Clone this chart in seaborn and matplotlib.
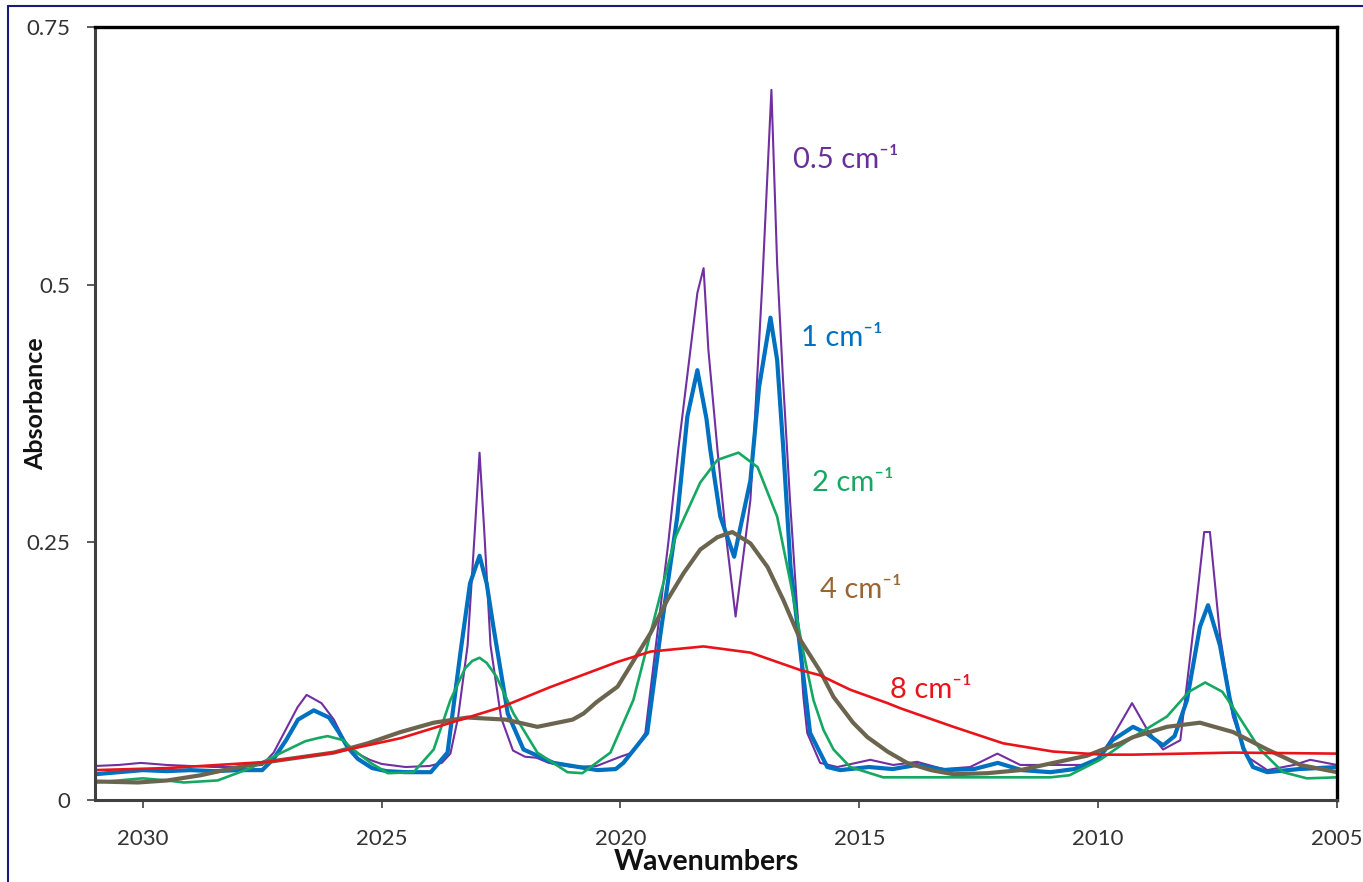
import matplotlib
matplotlib.use("Agg")
import matplotlib.pyplot as plt
from matplotlib.lines import Line2D
import seaborn as sns
import pandas as pd

# ---- data (wavenumber, absorbance) ----
wn_05 = [2031.0, 2030.5, 2030.04, 2029.5, 2029.0, 2028.5, 2028.0, 2027.5, 2027.26, 2027.01,
         2026.76, 2026.57, 2026.26, 2026.0, 2025.75, 2025.5, 2025.25, 2025.0, 2024.5, 2024.0,
         2023.74, 2023.56, 2023.4, 2023.2, 2023.05, 2022.95, 2022.85, 2022.72, 2022.5, 2022.25,
         2022.0, 2021.76, 2021.5, 2021.0, 2020.5, 2020.0, 2019.75, 2019.48, 2019.0, 2018.79,
         2018.39, 2018.26, 2018.16, 2017.97, 2017.8, 2017.59, 2017.28, 2017.22, 2017.03, 2016.84,
         2016.72, 2016.6, 2016.45, 2016.3, 2016.17, 2016.09, 2015.82, 2015.46, 2014.77, 2014.29,
         2013.79, 2013.24, 2012.68, 2012.11, 2011.63, 2010.94, 2010.23, 2009.96, 2009.69, 2009.29,
         2008.97, 2008.64, 2008.28, 2007.97, 2007.78, 2007.66, 2007.45, 2007.18, 2006.88, 2006.46,
         2005.9, 2005.56, 2005.0]
ab_05 = [0.033, 0.034, 0.036, 0.034, 0.033, 0.032, 0.032, 0.034, 0.046, 0.068,
         0.090, 0.102, 0.094, 0.078, 0.055, 0.045, 0.039, 0.035, 0.032, 0.033,
         0.036, 0.045, 0.080, 0.150, 0.260, 0.337, 0.260, 0.150, 0.080, 0.048,
         0.042, 0.041, 0.036, 0.032, 0.033, 0.042, 0.046, 0.065, 0.249, 0.340,
         0.492, 0.516, 0.437, 0.340, 0.260, 0.178, 0.291, 0.340, 0.502, 0.689,
         0.520, 0.410, 0.290, 0.185, 0.100, 0.065, 0.036, 0.032, 0.039, 0.034,
         0.037, 0.030, 0.032, 0.045, 0.034, 0.034, 0.034, 0.042, 0.062, 0.094,
         0.068, 0.049, 0.058, 0.180, 0.260, 0.260, 0.160, 0.081, 0.042, 0.029,
         0.034, 0.039, 0.034]

wn_1 = [2031.0, 2030.5, 2030.0, 2029.5, 2029.0, 2028.5, 2028.0, 2027.5, 2027.26, 2027.0,
        2026.75, 2026.42, 2026.1, 2025.9, 2025.71, 2025.5, 2025.2, 2024.9, 2024.5, 2023.97,
        2023.62, 2023.35, 2023.15, 2022.95, 2022.8, 2022.66, 2022.36, 2022.03, 2021.4, 2020.48,
        2020.1, 2019.94, 2019.44, 2019.16, 2018.81, 2018.6, 2018.39, 2018.2, 2018.12, 2017.91,
        2017.62, 2017.28, 2017.1, 2016.86, 2016.72, 2016.59, 2016.44, 2016.03, 2015.67, 2015.4,
        2014.8, 2014.3, 2013.8, 2013.2, 2012.6, 2012.1, 2011.6, 2011.0, 2010.5, 2010.0,
        2009.7, 2009.27, 2009.0, 2008.64, 2008.4, 2008.14, 2007.87, 2007.7, 2007.45, 2007.24,
        2006.96, 2006.76, 2006.46, 2005.8, 2005.0]
ab_1 = [0.025, 0.027, 0.029, 0.028, 0.029, 0.028, 0.029, 0.029, 0.040, 0.058,
        0.078, 0.087, 0.080, 0.066, 0.051, 0.040, 0.031, 0.028, 0.027, 0.027,
        0.046, 0.143, 0.210, 0.237, 0.210, 0.168, 0.084, 0.049, 0.036, 0.029,
        0.030, 0.036, 0.065, 0.162, 0.275, 0.372, 0.417, 0.370, 0.340, 0.275,
        0.236, 0.310, 0.400, 0.468, 0.427, 0.340, 0.226, 0.065, 0.032, 0.029,
        0.032, 0.030, 0.034, 0.029, 0.030, 0.036, 0.029, 0.027, 0.030, 0.040,
        0.058, 0.071, 0.065, 0.053, 0.062, 0.097, 0.168, 0.189, 0.150, 0.097,
        0.050, 0.032, 0.027, 0.030, 0.032]

wn_2 = [2031.0, 2030.5, 2030.0, 2029.5, 2029.14, 2028.43, 2027.74, 2027.18, 2026.6, 2026.34,
        2026.13, 2025.8, 2025.65, 2025.23, 2024.87, 2024.33, 2023.91, 2023.56, 2023.25, 2023.1,
        2022.95, 2022.8, 2022.6, 2022.24, 2021.74, 2021.11, 2020.8, 2020.21, 2019.73, 2019.37,
        2019.16, 2018.85, 2018.33, 2017.97, 2017.53, 2017.13, 2016.72, 2016.44, 2016.2, 2015.96,
        2015.75, 2015.54, 2015.19, 2014.5, 2013.0, 2011.0, 2010.6, 2009.96, 2009.27, 2008.56,
        2008.1, 2007.76, 2007.4, 2007.18, 2006.61, 2006.13, 2005.63, 2005.0]
ab_2 = [0.017, 0.019, 0.021, 0.019, 0.017, 0.019, 0.031, 0.044, 0.057, 0.060,
        0.062, 0.058, 0.051, 0.036, 0.026, 0.027, 0.049, 0.097, 0.128, 0.135,
        0.138, 0.133, 0.120, 0.084, 0.046, 0.027, 0.026, 0.046, 0.097, 0.162,
        0.200, 0.255, 0.308, 0.330, 0.337, 0.323, 0.275, 0.211, 0.150, 0.097,
        0.068, 0.049, 0.032, 0.022, 0.022, 0.022, 0.024, 0.039, 0.061, 0.081,
        0.105, 0.114, 0.105, 0.090, 0.049, 0.027, 0.021, 0.022]

wn_4 = [2031.0, 2030.1, 2029.48, 2028.79, 2028.1, 2027.38, 2026.0, 2025.29, 2024.6, 2023.91,
        2023.2, 2022.4, 2021.74, 2021.0, 2020.77, 2020.5, 2020.06, 2019.37, 2019.02, 2018.68,
        2018.33, 2017.97, 2017.66, 2017.28, 2016.92, 2016.59, 2016.23, 2015.82, 2015.54, 2015.13,
        2014.83, 2014.41, 2014.0, 2013.5, 2013.03, 2012.32, 2011.63, 2010.94, 2010.23, 2009.96,
        2009.54, 2009.27, 2008.56, 2007.87, 2007.18, 2006.46, 2005.77, 2005.0]
ab_4 = [0.018, 0.017, 0.019, 0.024, 0.031, 0.037, 0.046, 0.055, 0.066, 0.075,
        0.080, 0.078, 0.071, 0.078, 0.084, 0.095, 0.110, 0.162, 0.194, 0.220,
        0.243, 0.255, 0.260, 0.249, 0.226, 0.194, 0.155, 0.125, 0.100, 0.075,
        0.061, 0.047, 0.036, 0.029, 0.025, 0.026, 0.029, 0.036, 0.043, 0.048,
        0.055, 0.061, 0.071, 0.075, 0.066, 0.049, 0.034, 0.027]

wn_8 = [2031.0, 2029.48, 2027.38, 2026.0, 2024.6, 2023.2, 2022.5, 2021.5, 2020.06, 2019.37,
        2018.26, 2017.28, 2016.23, 2015.82, 2015.19, 2014.41, 2014.14, 2013.03, 2011.99, 2010.94,
        2009.9, 2009.27, 2007.18, 2005.0]
ab_8 = [0.029, 0.031, 0.037, 0.046, 0.060, 0.080, 0.090, 0.109, 0.134, 0.144,
        0.149, 0.143, 0.126, 0.121, 0.107, 0.094, 0.089, 0.071, 0.055, 0.047,
        0.044, 0.044, 0.046, 0.045]

resolutions = ["0.5", "1", "2", "4", "8"]
x_ticks = [2030, 2025, 2020, 2015, 2010, 2005]
y_ticks = [0, 0.25, 0.5, 0.75]
y_tick_labels = ["0", "0.25", "0.5", "0.75"]

# ---- styling ----
sns.set_theme(style="white")
plt.rcParams["font.family"] = ["Lato", "DejaVu Sans"]

line_colors = {"0.5": "#7030A0", "1": "#0070C0", "2": "#16A862", "4": "#6B6550", "8": "#E8141A"}
label_colors = {"0.5": "#6A2E9A", "1": "#0070C0", "2": "#16A862", "4": "#996633", "8": "#E8141A"}
line_widths = {"0.5": 1.5, "1": 3.0, "2": 1.9, "4": 3.0, "8": 1.9}
label_pos = {"0.5": (2016.38, 0.621), "1": (2016.23, 0.448), "2": (2015.98, 0.308),
             "4": (2015.82, 0.204), "8": (2014.35, 0.107)}

series = {"0.5": (wn_05, ab_05), "1": (wn_1, ab_1), "2": (wn_2, ab_2),
          "4": (wn_4, ab_4), "8": (wn_8, ab_8)}

fig = plt.figure(figsize=(13.63, 8.82), dpi=100)
ax = fig.add_axes([95 / 1363, 1 - 800 / 882, (1337 - 95) / 1363, (800 - 27) / 882])

for r in resolutions:
    wn, ab = series[r]
    df = pd.DataFrame({"Wavenumbers": wn, "Absorbance": ab})
    sns.lineplot(data=df, x="Wavenumbers", y="Absorbance", ax=ax, color=line_colors[r],
                 linewidth=line_widths[r], estimator=None, sort=True)

for r in resolutions:
    x, y = label_pos[r]
    ax.text(x, y, r + " cm\u207b\u00b9", color=label_colors[r], fontsize=21,
            ha="left", va="center", family=["Lato", "DejaVu Sans"])

ax.set_xlim(2031.0, 2005.0)
ax.set_ylim(0, 0.75)
ax.set_xticks(x_ticks)
ax.set_xticklabels([str(t) for t in x_ticks])
ax.set_yticks(y_ticks)
ax.set_yticklabels(y_tick_labels)
ax.set_xlabel("")
ax.set_ylabel("")

ax.tick_params(axis="both", which="major", direction="out", length=6, width=1.2,
               colors="#404040", labelsize=16, labelcolor="#333333")
ax.tick_params(axis="x", pad=15, bottom=True)
ax.tick_params(axis="y", pad=12, left=True)

for side in ["left", "bottom"]:
    ax.spines[side].set_color("#404040")
    ax.spines[side].set_linewidth(2.2)
for side in ["top", "right"]:
    ax.spines[side].set_color("black")
    ax.spines[side].set_linewidth(2.4)
    ax.spines[side].set_visible(True)

fig.text(706 / 1363, 1 - 862 / 882, "Wavenumbers", ha="center", va="center",
         fontsize=20.5, fontweight="bold", color="#111111")
fig.text(36 / 1363, 1 - 404 / 882, "Absorbance", ha="center", va="center",
         rotation=90, fontsize=18, fontweight="bold", color="#111111")

# figure frame (dark navy)
fig.add_artist(Line2D([8 / 1363, 8 / 1363], [0, 1 - 6 / 882], transform=fig.transFigure,
                      color="#1a1a7a", linewidth=1.5))
fig.add_artist(Line2D([8 / 1363, 1], [1 - 6 / 882, 1 - 6 / 882], transform=fig.transFigure,
                      color="#1a1a7a", linewidth=1.5))

fig.savefig("out.png", dpi=100, facecolor="white")
